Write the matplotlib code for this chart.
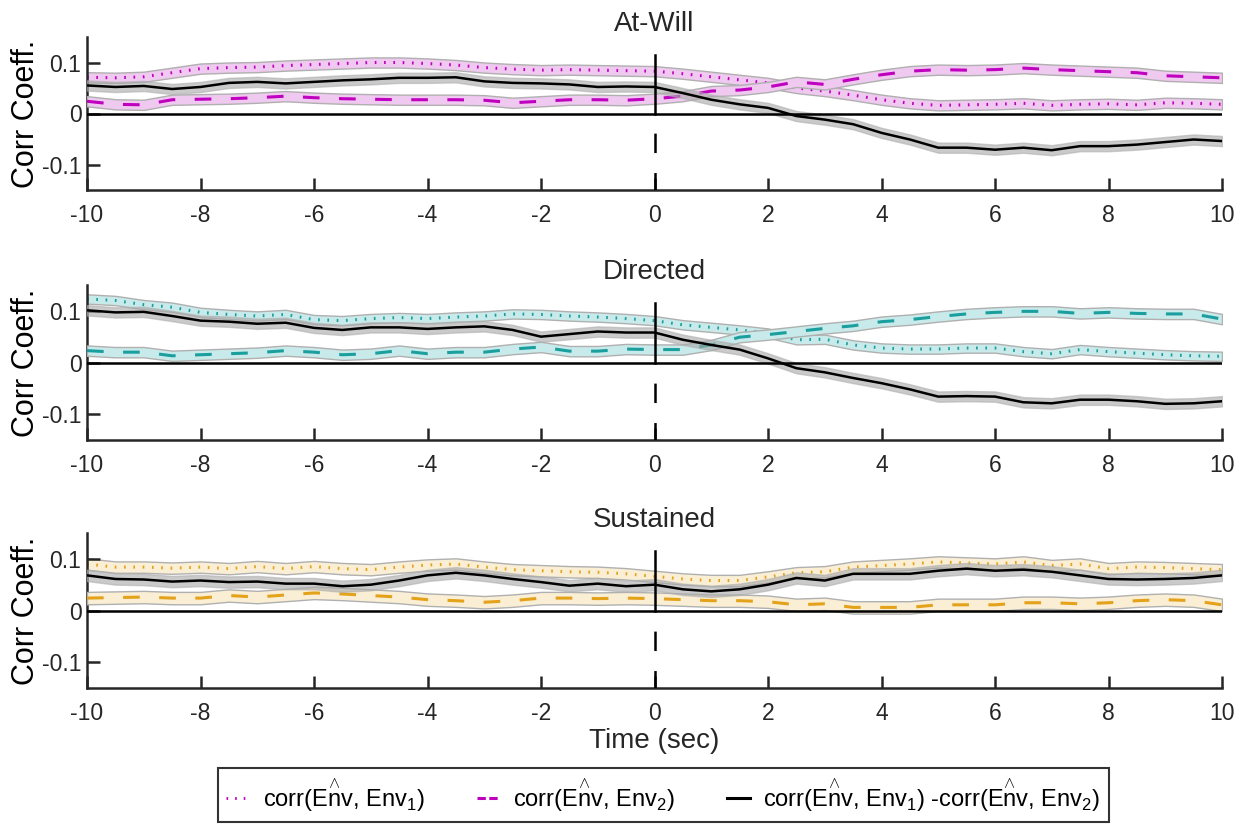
import numpy as np
import matplotlib
matplotlib.use("Agg")
import matplotlib.pyplot as plt
from matplotlib.lines import Line2D

plt.rcParams['font.family'] = ['Liberation Sans', 'DejaVu Sans']
plt.rcParams['mathtext.fontset'] = 'custom'
plt.rcParams['mathtext.rm'] = 'Liberation Sans'
plt.rcParams['mathtext.it'] = 'Liberation Sans:italic'
plt.rcParams['mathtext.sf'] = 'Liberation Sans'
plt.rcParams['lines.scale_dashes'] = False

# ---------------- data ----------------
time = np.linspace(-10, 10, 41)

titles = ["At-Will", "Directed", "Sustained"]

atwill_env1 = [0.071, 0.070, 0.072, 0.080, 0.088, 0.090, 0.091, 0.094, 0.096, 0.098, 0.100,
               0.100, 0.098, 0.095, 0.090, 0.087, 0.085, 0.086, 0.085, 0.084, 0.083,
               0.078, 0.072, 0.066, 0.060, 0.050, 0.044, 0.036, 0.027, 0.020, 0.016,
               0.017, 0.018, 0.020, 0.016, 0.018, 0.019, 0.017, 0.021, 0.020, 0.018]
atwill_env2 = [0.024, 0.018, 0.017, 0.027, 0.028, 0.029, 0.031, 0.034, 0.031, 0.029, 0.028,
               0.027, 0.027, 0.027, 0.026, 0.021, 0.024, 0.027, 0.027, 0.026, 0.029,
               0.034, 0.044, 0.046, 0.052, 0.062, 0.057, 0.067, 0.076, 0.083, 0.086,
               0.085, 0.086, 0.089, 0.086, 0.084, 0.082, 0.080, 0.074, 0.072, 0.070]
atwill_diff = [0.055, 0.052, 0.054, 0.048, 0.052, 0.060, 0.062, 0.059, 0.062, 0.065, 0.067,
               0.070, 0.070, 0.071, 0.063, 0.060, 0.059, 0.057, 0.052, 0.053, 0.052,
               0.040, 0.027, 0.018, 0.011, -0.005, -0.012, -0.021, -0.038, -0.051, -0.067,
               -0.067, -0.071, -0.067, -0.072, -0.064, -0.064, -0.061, -0.056, -0.051, -0.054]

directed_env1 = [0.123, 0.120, 0.112, 0.107, 0.097, 0.093, 0.090, 0.093, 0.083, 0.081, 0.085,
                 0.087, 0.085, 0.088, 0.090, 0.094, 0.093, 0.090, 0.088, 0.085, 0.081,
                 0.073, 0.068, 0.063, 0.057, 0.044, 0.045, 0.034, 0.028, 0.026, 0.026,
                 0.028, 0.028, 0.021, 0.017, 0.025, 0.021, 0.018, 0.015, 0.013, 0.012]
directed_env2 = [0.023, 0.020, 0.020, 0.013, 0.015, 0.017, 0.019, 0.023, 0.020, 0.015, 0.017,
                 0.023, 0.017, 0.020, 0.020, 0.026, 0.030, 0.022, 0.022, 0.026, 0.025,
                 0.025, 0.034, 0.049, 0.054, 0.060, 0.066, 0.071, 0.079, 0.083, 0.089,
                 0.094, 0.097, 0.099, 0.099, 0.095, 0.097, 0.095, 0.094, 0.094, 0.084]
directed_diff = [0.101, 0.097, 0.098, 0.090, 0.081, 0.079, 0.075, 0.077, 0.067, 0.063, 0.068,
                 0.068, 0.065, 0.068, 0.070, 0.063, 0.050, 0.055, 0.060, 0.058, 0.058,
                 0.044, 0.034, 0.025, 0.008, -0.011, -0.019, -0.030, -0.040, -0.052, -0.066,
                 -0.065, -0.066, -0.077, -0.079, -0.072, -0.072, -0.075, -0.080, -0.079, -0.075]

sustained_env1 = [0.090, 0.084, 0.084, 0.082, 0.084, 0.081, 0.085, 0.081, 0.085, 0.081, 0.079,
                  0.084, 0.088, 0.090, 0.084, 0.079, 0.077, 0.075, 0.074, 0.071, 0.066,
                  0.061, 0.058, 0.058, 0.065, 0.073, 0.075, 0.084, 0.087, 0.090, 0.094,
                  0.092, 0.090, 0.094, 0.087, 0.090, 0.081, 0.084, 0.083, 0.081, 0.079]
sustained_env2 = [0.024, 0.025, 0.026, 0.024, 0.024, 0.029, 0.026, 0.030, 0.034, 0.032, 0.029,
                  0.026, 0.021, 0.019, 0.016, 0.019, 0.024, 0.024, 0.023, 0.024, 0.023,
                  0.021, 0.019, 0.019, 0.017, 0.011, 0.013, 0.006, 0.006, 0.006, 0.011,
                  0.011, 0.011, 0.015, 0.015, 0.013, 0.015, 0.019, 0.021, 0.019, 0.011]
sustained_diff = [0.068, 0.061, 0.060, 0.056, 0.058, 0.055, 0.056, 0.052, 0.052, 0.047, 0.050,
                  0.058, 0.068, 0.073, 0.068, 0.061, 0.055, 0.048, 0.052, 0.047, 0.050,
                  0.041, 0.037, 0.041, 0.050, 0.063, 0.058, 0.071, 0.071, 0.071, 0.077,
                  0.081, 0.077, 0.079, 0.075, 0.068, 0.061, 0.060, 0.061, 0.063, 0.068]

# standard-error half widths of the shaded bands (env1, env2, diff)
sem_atwill = [0.010, 0.010, 0.010]
sem_directed = [0.009, 0.010, 0.010]
sem_sustained = [0.011, 0.012, 0.011]

xticks = [-10, -8, -6, -4, -2, 0, 2, 4, 6, 8, 10]
yticks = [-0.1, 0, 0.1]
ytick_labels = ["-0.1", "0", "0.1"]

HAT = r'E$\overset{\wedge}{\mathrm{n}}$v'
legend_labels = ['corr(' + HAT + r', Env$_1$)',
                 'corr(' + HAT + r', Env$_2$)',
                 'corr(' + HAT + r', Env$_1$) -corr(' + HAT + r', Env$_2$)']

# ---------------- styles ----------------
line_colors = ['#BF00BF', '#1A9E9E', '#E3A21A']
fill_colors = ['#EFC9EF', '#C9EAEA', '#FAEFD5']
diff_fill = '#A8A8A8'
band_edge = '#B0B0B0'
ink = '#262626'

panels = [
    (atwill_env1, atwill_env2, atwill_diff, sem_atwill),
    (directed_env1, directed_env2, directed_diff, sem_directed),
    (sustained_env1, sustained_env2, sustained_diff, sem_sustained),
]

fig = plt.figure(figsize=(12.47, 8.24), dpi=100)
W, H = 1247, 824
ax_left, ax_right = 87, 1222
ax_tops = [37, 285, 533]
ax_bots = [190, 440, 688]

for i, (e1, e2, d, sem) in enumerate(panels):
    ax = fig.add_axes([ax_left / W, 1 - ax_bots[i] / H,
                       (ax_right - ax_left) / W, (ax_bots[i] - ax_tops[i]) / H])
    e1 = np.array(e1); e2 = np.array(e2); d = np.array(d)
    lc, fc = line_colors[i], fill_colors[i]

    ax.fill_between(time, e1 - sem[0], e1 + sem[0], facecolor=fc, edgecolor=band_edge,
                    linewidth=1.0, zorder=1)
    ax.plot(time, e1, color=lc, linewidth=2.2, linestyle=(0, (1.2, 5.5)),
            dash_capstyle='butt', zorder=2)
    ax.fill_between(time, e2 - sem[1], e2 + sem[1], facecolor=fc, edgecolor=band_edge,
                    linewidth=1.0, zorder=3)
    ax.plot(time, e2, color=lc, linewidth=2.2, linestyle=(0, (12, 14)), zorder=4)
    ax.fill_between(time, d - sem[2], d + sem[2], facecolor=diff_fill, alpha=0.6,
                    edgecolor=band_edge, linewidth=1.0, zorder=5)
    ax.plot(time, d, color='black', linewidth=1.8, zorder=6)

    # reference lines
    ax.axhline(0, color='black', linewidth=1.8, zorder=7)
    ax.plot([0, 0], [0, 0.115], color='black', linewidth=1.8, zorder=7)
    ax.plot([0, 0], [-0.153, 0], color='black', linewidth=1.8, zorder=7,
            linestyle=(0, (14, 14.4)), dash_capstyle='butt')

    ax.set_xlim(-10, 10)
    ax.set_ylim(-0.15, 0.15)
    ax.set_xticks(xticks)
    ax.set_xticklabels([str(t) for t in xticks])
    ax.set_yticks(yticks)
    ax.set_yticklabels(ytick_labels)
    for s in ['top', 'right']:
        ax.spines[s].set_visible(False)
    for s in ['left', 'bottom']:
        ax.spines[s].set_color(ink)
        ax.spines[s].set_linewidth(1.8)
    ax.tick_params(direction='in', length=9, width=1.8, colors=ink, labelsize=16.5)
    ax.tick_params(axis='x', pad=10)
    ax.tick_params(axis='y', pad=4)
    ax.set_ylabel('Corr Coeff.', fontsize=22, color='black', labelpad=1)
    ax.set_title(titles[i], fontsize=20, color=ink, pad=4)
    if i == 2:
        ax.set_xlabel('Time (sec)', fontsize=20, color=ink, labelpad=2)

handles = [Line2D([], [], color=line_colors[0], linewidth=2, linestyle=(0, (1.2, 5))),
           Line2D([], [], color=line_colors[0], linewidth=2.2, linestyle=(0, (6, 2.5))),
           Line2D([], [], color='black', linewidth=2.2)]
leg = fig.legend(handles, legend_labels, loc='center', bbox_to_anchor=(0.532, 0.035),
                 ncol=3, fontsize=17, frameon=True, fancybox=False, handlelength=1.0,
                 handletextpad=0.55, columnspacing=2.2, borderpad=0.35,
                 borderaxespad=0)
leg.get_frame().set_edgecolor('black')
leg.get_frame().set_linewidth(1.5)

fig.savefig('out.png', dpi=100)
